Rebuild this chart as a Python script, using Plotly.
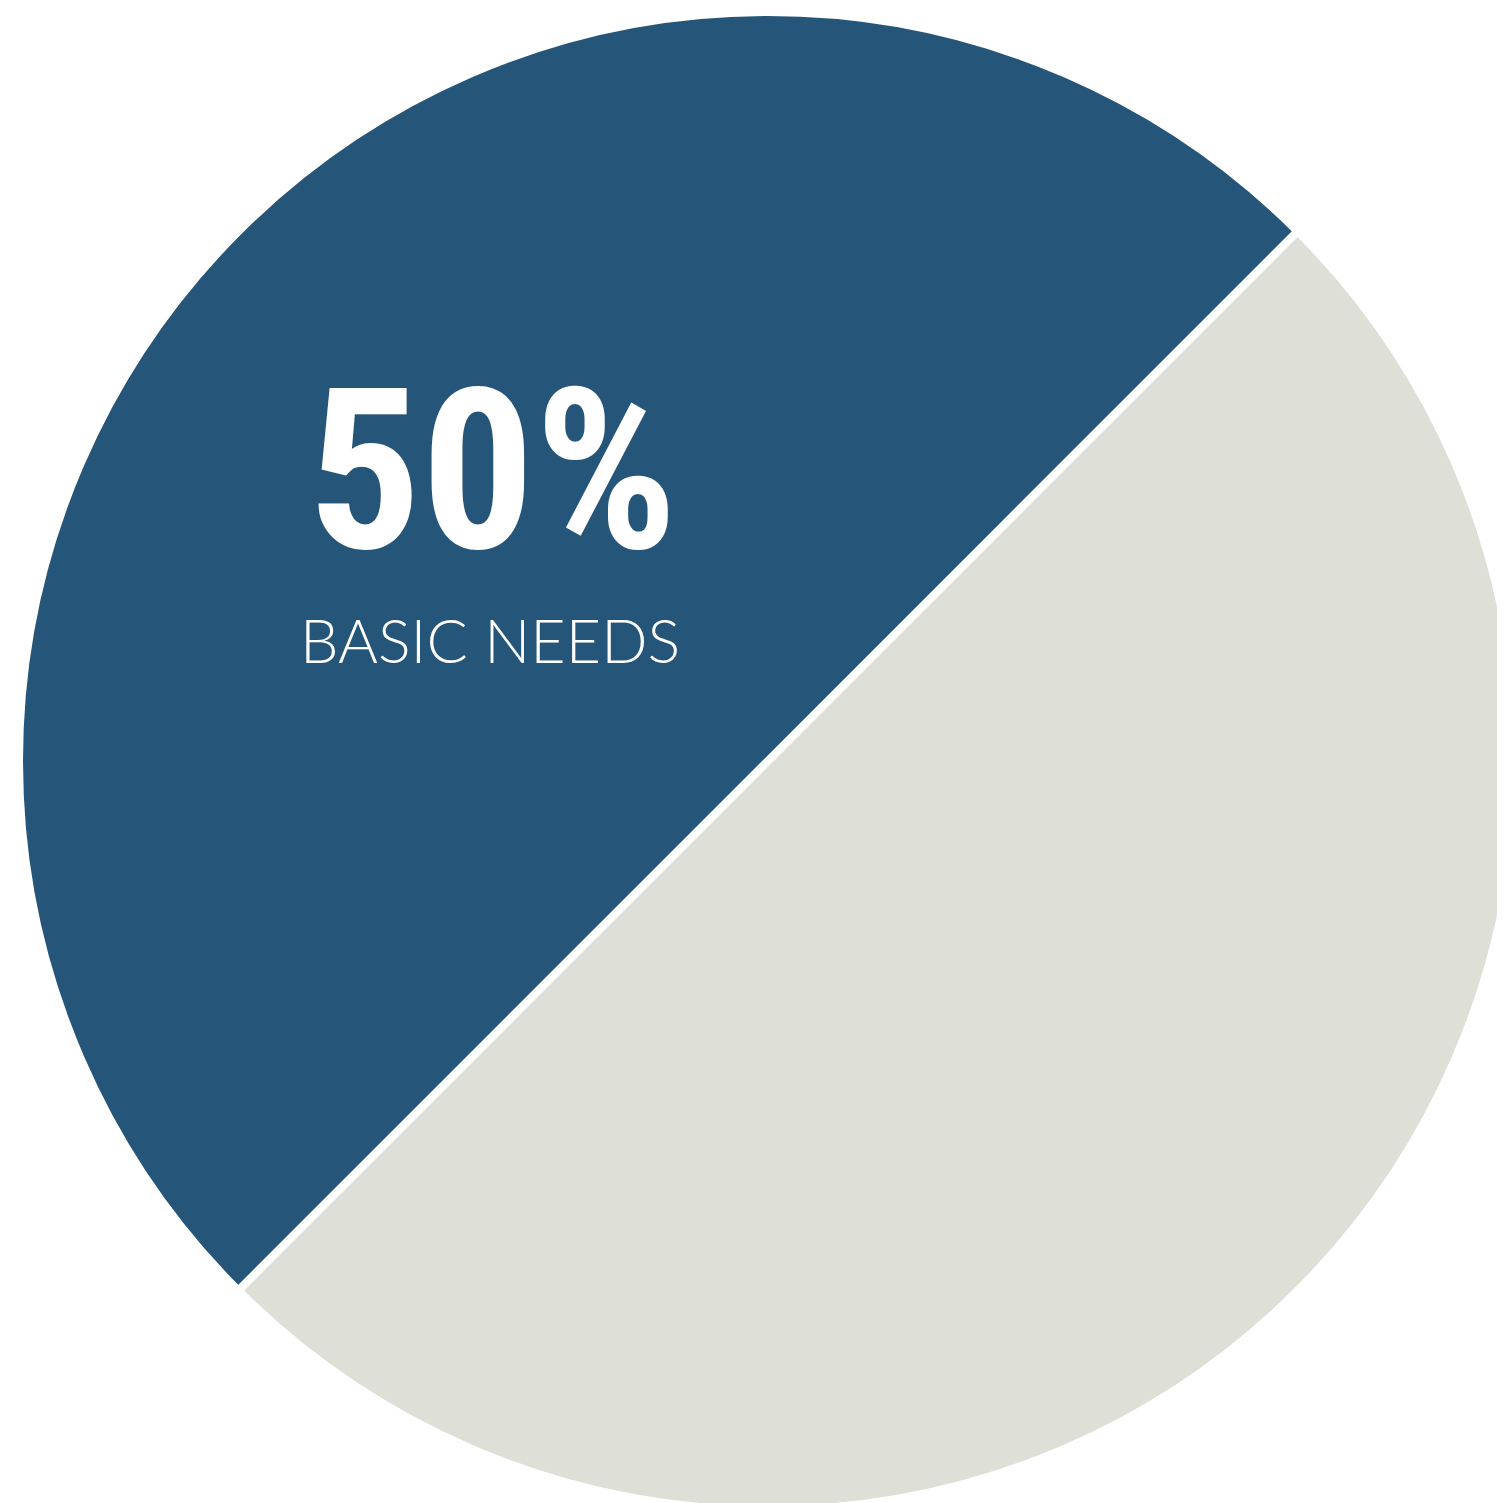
import plotly.graph_objects as go

labels = ["BASIC NEEDS", "OTHER"]
values = [50, 50]
colors = ["#255679", "#DEDFD7"]

# page geometry (browser body margin is 8px)
BODY = 8
LINE_W = 8
R_GEOM = 745 + LINE_W / 2
CX, CY = 768, 761
left = CX - R_GEOM - BODY
top = CY - R_GEOM - BODY
size = 2 * R_GEOM
W = left + size
H = top + size

def px(x):
    return (x - BODY - left) / size

def py(y):
    return 1 - (y - BODY - top) / size

fig = go.Figure(
    go.Pie(
        labels=labels,
        values=values,
        marker=dict(colors=colors, line=dict(color="white", width=LINE_W)),
        sort=False,
        direction="clockwise",
        rotation=225,
        textinfo="none",
        hoverinfo="label+percent",
        showlegend=False,
    )
)

fig.add_annotation(
    x=px(492), y=py(471), xref="paper", yref="paper",
    text=f"<span style='font-stretch:condensed'>{values[0]}%</span>", showarrow=False,
    xanchor="center", yanchor="middle",
    font=dict(family="Roboto", size=224, color="white", weight="bold"),
)
fig.add_annotation(
    x=px(490), y=py(639), xref="paper", yref="paper",
    text=labels[0], showarrow=False,
    xanchor="center", yanchor="middle",
    font=dict(family="Lato, Open Sans", size=61, color="white", weight=300),
)

fig.update_layout(
    width=W, height=H,
    margin=dict(l=left, t=top, r=0, b=0, pad=0),
    paper_bgcolor="white",
    plot_bgcolor="white",
)

fig.write_html("out.html")
